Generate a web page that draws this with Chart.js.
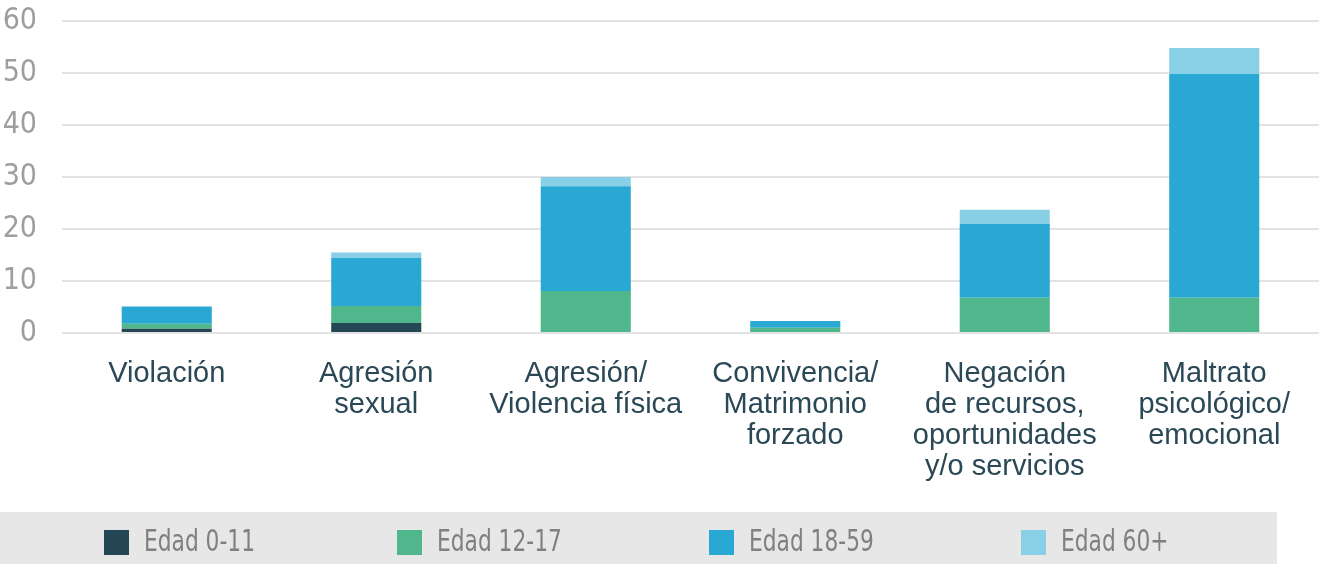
<!DOCTYPE html>
<html>
<head>
<meta charset="utf-8">
<title>Tipos de violencia por edad</title>
<script src="https://cdn.jsdelivr.net/npm/chart.js@4/dist/chart.umd.min.js"></script>
<style>
    html, body { margin: 0; padding: 0; background: #ffffff; }
    #wrap { width: 1319px; height: 564px; position: relative; }
</style>
</head>
<body>
<div id="wrap"><canvas id="chart"></canvas></div>
<script>
// Categories (x axis), split into lines as in the original
const categories = [
    ['Violación'],
    ['Agresión', 'sexual'],
    ['Agresión/', 'Violencia física'],
    ['Convivencia/', 'Matrimonio', 'forzado'],
    ['Negación', 'de recursos,', 'oportunidades', 'y/o servicios'],
    ['Maltrato', 'psicológico/', 'emocional']
];

// Series values, one per age group
const edad0a11 = [0.8, 1.9, 0, 0, 0, 0];
const edad12a17 = [1, 3.3, 8.1, 1, 6.8, 6.8];
const edad18a59 = [3.3, 9.2, 20.1, 1.3, 14.2, 43];
const edad60mas = [0, 1.1, 1.8, 0, 2.7, 5];

const seriesLabels = ['Edad 0-11', 'Edad 12-17', 'Edad 18-59', 'Edad 60+'];
const seriesColors = ['#254654', '#50b68c', '#2aa8d4', '#89d0e6'];

// Y axis ticks
const yTicks = [0, 10, 20, 30, 40, 50, 60];

// Legend drawn by hand: grey band with spread-out items
const legendStartX = [104, 397, 709, 1021];

const bandLegend = {
    id: 'bandLegend',
    beforeDraw(chart) {
        const ctx = chart.ctx;
        ctx.save();
        ctx.fillStyle = '#e6e7e6';
        ctx.fillRect(0, 512, 1277, chart.height - 512);
        ctx.restore();
    },
    afterDraw(chart) {
        const ctx = chart.ctx;
        ctx.save();
        chart.data.datasets.forEach((ds, i) => {
            const x = legendStartX[i];
            ctx.fillStyle = ds.backgroundColor;
            ctx.fillRect(x, 530, 25, 25);
            // condensed look for the legend text
            ctx.save();
            ctx.translate(x + 40, 543);
            ctx.scale(0.78, 1);
            ctx.fillStyle = '#808080';
            ctx.font = '31px "DejaVu Sans Condensed", "DejaVu Sans", sans-serif';
            ctx.textBaseline = 'middle';
            ctx.textAlign = 'left';
            ctx.fillText(ds.label, 0, 0);
            ctx.restore();
        });
        ctx.restore();
    }
};

const allSeries = [edad0a11, edad12a17, edad18a59, edad60mas];

new Chart(document.getElementById('chart').getContext('2d'), {
    type: 'bar',
    data: {
        labels: categories,
        datasets: allSeries.map((values, i) => ({
            label: seriesLabels[i],
            data: values,
            backgroundColor: seriesColors[i],
            borderWidth: 0,
            barPercentage: 0.43,
            categoryPercentage: 1
        }))
    },
    plugins: [bandLegend],
    options: {
        responsive: true,
        maintainAspectRatio: false,
        animation: false,
        layout: {
            padding: { top: 21, right: 0, left: 0, bottom: 0 }
        },
        plugins: {
            tooltip: { enabled: false },
            legend: { display: false }
        },
        scales: {
            x: {
                stacked: true,
                grid: { display: false },
                border: { display: false },
                afterFit(scale) {
                    scale.height = 231;
                },
                ticks: {
                    color: '#2a4856',
                    padding: 17,
                    maxRotation: 0,
                    autoSkip: false,
                    font: { family: '"Liberation Sans", Arial, sans-serif', size: 29, lineHeight: 1.07 }
                }
            },
            y: {
                stacked: true,
                min: 0,
                max: 60,
                afterBuildTicks(axis) {
                    axis.ticks = yTicks.map(v => ({ value: v }));
                },
                afterFit(scale) {
                    scale.width = 62;
                    scale.paddingTop = 0;
                    scale.paddingBottom = 0;
                },
                grid: { color: '#e3e3e3', lineWidth: 2, drawTicks: false },
                border: { display: false },
                ticks: {
                    color: '#9e9e9e',
                    padding: 25,
                    font: { family: '"DejaVu Sans Condensed", "DejaVu Sans", sans-serif', size: 30 }
                }
            }
        }
    }
});
</script>
</body>
</html>
